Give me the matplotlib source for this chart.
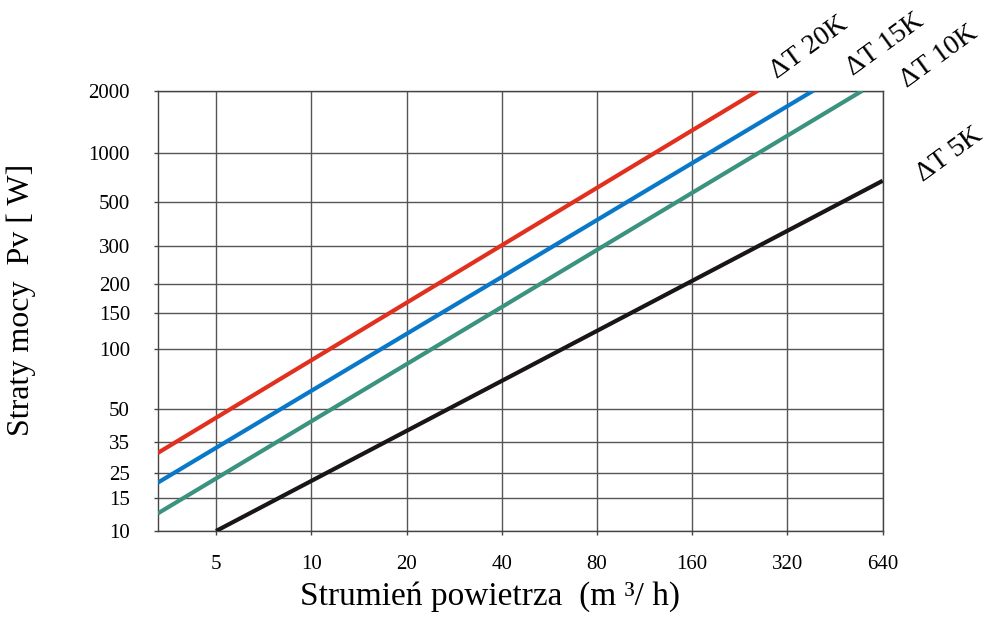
import numpy as np
import matplotlib
matplotlib.use("Agg")
import matplotlib.pyplot as plt

plt.rcParams['font.family'] = ['Liberation Serif', 'DejaVu Serif']

# air flow ticks (m3/h) and power loss ticks (W)
x_ticks = [5, 10, 20, 40, 80, 160, 320, 640]
y_ticks = [10, 15, 25, 35, 50, 100, 150, 200, 300, 500, 1000, 2000]

# the printed chart spaces the y grid unevenly; height of each tick line above the bottom (px)
y_tick_height = [0, 33, 58, 89.3, 122, 181.7, 217.7, 247, 285, 329.3, 377.7, 440.3]

# line end points: (flow, power)
series = {
    'ΔT 20K': ([3.27, 258], [31.0, 2000]),
    'ΔT 15K': ([3.27, 386], [20.5, 2000]),
    'ΔT 10K': ([3.27, 552], [12.4, 2000]),
    'ΔT 5K': ([5, 640], [10, 675]),
}
colors = {'ΔT 20K': '#e2301f', 'ΔT 15K': '#0a78c8', 'ΔT 10K': '#3b9281', 'ΔT 5K': '#1b1616'}

log_y = np.log10(y_ticks)
h = np.array(y_tick_height)


def y_forward(v):
    v = np.maximum(np.asarray(v, dtype=float), 1e-9)
    return np.interp(np.log10(v), log_y, h)


def y_inverse(p):
    return 10 ** np.interp(np.asarray(p, dtype=float), h, log_y)


fig = plt.figure(figsize=(9.87, 6.19), dpi=100)
ax = fig.add_axes([157.7 / 987, 1 - 531 / 619, (882.7 - 157.7) / 987, (531 - 90.7) / 619])

ax.set_xscale('log', base=2)
ax.set_yscale('function', functions=(y_forward, y_inverse))

for name, (xs, ys) in series.items():
    ax.plot(xs, ys, color=colors[name], lw=3, solid_capstyle='butt', zorder=3)

ax.set_xlim(3.27, 640)
ax.set_ylim(10, 2000)

ax.set_xticks(x_ticks)
ax.set_xticklabels([str(v) for v in x_ticks])
ax.set_yticks(y_ticks)
ax.set_yticklabels([str(v) for v in y_ticks])
ax.minorticks_off()
ax.tick_params(axis='x', labelsize=15, length=3, width=1, color='#444444', pad=14)
ax.tick_params(axis='y', labelsize=15, length=3, width=1, color='#444444', pad=17)

ax.grid(True, color='#555555', lw=1)
for sp in ax.spines.values():
    sp.set_color('#444444')
    sp.set_linewidth(1)

fig.text(490 / 987, 1 - 597 / 619, 'Strumień powietrza  (m \u00b3/ h)', fontsize=24,
         ha='center', va='center')
fig.text(21 / 987, 1 - 300 / 619, 'Straty mocy  Pv [ W]', fontsize=23, rotation=90,
         ha='center', va='center')

label_pos = {'ΔT 20K': (809, 48), 'ΔT 15K': (885, 45), 'ΔT 10K': (939, 57), 'ΔT 5K': (950, 155)}
for name, (px, py) in label_pos.items():
    fig.text(px / 987, 1 - py / 619, name, fontsize=20, rotation=36,
             ha='center', va='center', rotation_mode='anchor')

fig.savefig('out.png', dpi=100)
